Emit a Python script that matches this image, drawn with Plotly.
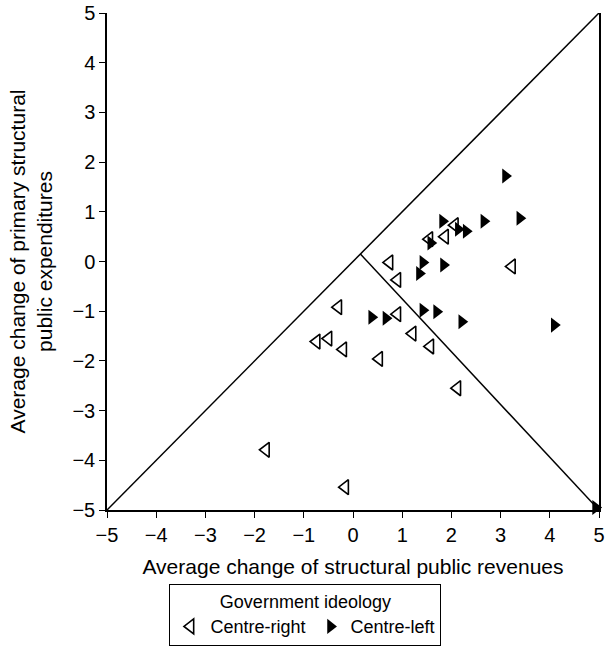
import plotly.graph_objects as go

# Centre-right governments (open left-pointing triangles)
right_x = [2.07, 1.87, 1.55, 0.74, 3.23, 0.90, -0.30, 0.90, 1.21, -0.50, -0.74, -0.20, 1.57, 0.53, 2.12, -1.77, -0.16]
right_y = [0.73, 0.50, 0.45, -0.02, -0.10, -0.37, -0.92, -1.06, -1.45, -1.55, -1.61, -1.77, -1.71, -1.96, -2.55, -3.79, -4.54]

# Centre-left governments (filled right-pointing triangles)
left_x = [3.10, 3.39, 2.66, 1.82, 2.14, 2.30, 1.58, 1.42, 1.84, 1.35, 1.42, 1.70, 0.67, 2.21, 0.38, 4.09, 4.93]
left_y = [1.72, 0.87, 0.81, 0.81, 0.65, 0.61, 0.37, -0.02, -0.07, -0.24, -0.98, -1.01, -1.14, -1.21, -1.12, -1.28, -4.95]

# Reference lines
diag_x = [-5, 5]
diag_y = [-5, 5]
split_x = [0.15, 5]
split_y = [0.15, -5]

tick_vals = [-5, -4, -3, -2, -1, 0, 1, 2, 3, 4, 5]
tick_text = ["\u22125", "\u22124", "\u22123", "\u22122", "\u22121", "0", "1", "2", "3", "4", "5"]

FONT = "Liberation Sans, Arial, Helvetica, sans-serif"

fig = go.Figure()
fig.add_trace(go.Scatter(x=diag_x, y=diag_y, mode="lines", line=dict(color="black", width=1.5),
                         showlegend=False, hoverinfo="skip", cliponaxis=False))
fig.add_trace(go.Scatter(x=split_x, y=split_y, mode="lines", line=dict(color="black", width=1.5),
                         showlegend=False, hoverinfo="skip", cliponaxis=False))
fig.add_trace(go.Scatter(x=right_x, y=right_y, mode="markers", name="Centre-right",
                         marker=dict(symbol="triangle-left-open", size=13, color="black",
                                     line=dict(width=1.6, color="black")), cliponaxis=False))
fig.add_trace(go.Scatter(x=left_x, y=left_y, mode="markers", name="Centre-left",
                         marker=dict(symbol="triangle-right", size=13, color="black",
                                     line=dict(width=0)), cliponaxis=False))

axis_common = dict(
    range=[-5, 5], tickvals=tick_vals, ticktext=tick_text, showgrid=False, zeroline=False,
    showline=True, linecolor="black", linewidth=1.5, ticks="outside", ticklen=6,
    tickwidth=1.2, tickcolor="black", tickfont=dict(size=20, color="black", family=FONT),
    automargin=False,
)
fig.update_xaxes(**axis_common,
                 title=dict(text="Average change of structural public revenues",
                            font=dict(size=21, color="black", family=FONT), standoff=15))
fig.update_yaxes(**axis_common, mirror=True,
                 title=dict(text="Average change of primary structural<br>public expenditures",
                            font=dict(size=21, color="black", family=FONT), standoff=14))

fig.update_layout(
    width=606, height=653,
    margin=dict(l=107, r=7, t=13, b=143),
    plot_bgcolor="white", paper_bgcolor="white",
    font=dict(family=FONT, color="black", size=18),
    legend=dict(
        orientation="h", xref="container", yref="container",
        x=0.504, xanchor="center", y=0.106, yanchor="top",
        bordercolor="black", borderwidth=1, bgcolor="white",
        title=dict(text="Government ideology", side="top center", font=dict(size=18)),
        font=dict(size=18, family=FONT), itemwidth=30, tracegroupgap=0,
    ),
)

fig.write_html("out.html", config={"displayModeBar": False},
               post_script="document.body.style.margin='0';document.body.style.overflow='hidden';")
